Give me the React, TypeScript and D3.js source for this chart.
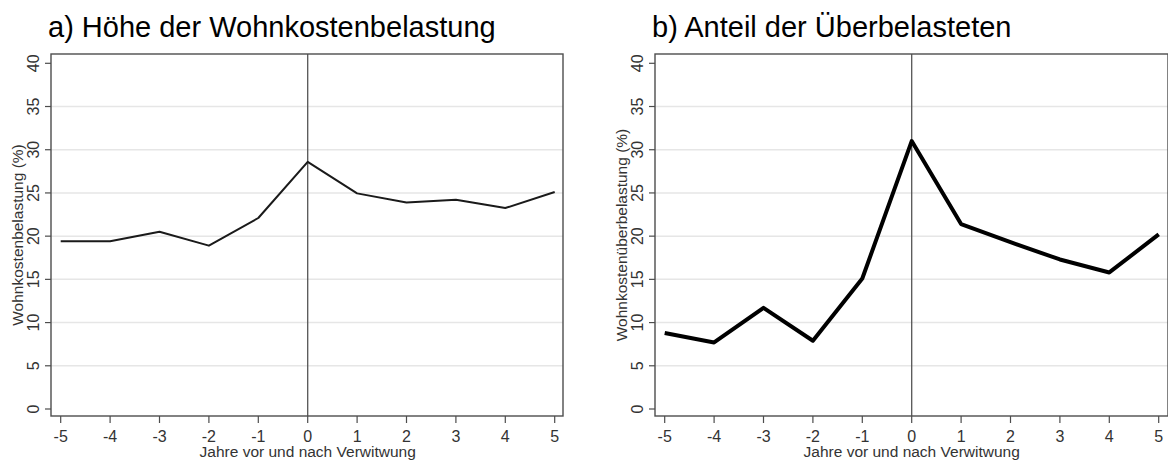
import React from "react";
import * as d3 from "d3";

const years = [-5, -4, -3, -2, -1, 0, 1, 2, 3, 4, 5];
const belastung = [19.4, 19.4, 20.5, 18.9, 22.1, 28.6, 24.95, 23.9, 24.2, 23.25, 25.1];
const ueberbelastet = [8.8, 7.7, 11.7, 7.9, 15.1, 31.0, 21.4, 19.3, 17.3, 15.8, 20.2];
const yTicks = [0, 5, 10, 15, 20, 25, 30, 35, 40];
const gridTicks = [5, 10, 15, 20, 25, 30, 35];
const titleA = "a) Höhe der Wohnkostenbelastung";
const titleB = "b) Anteil der Überbelasteten";
const yTitleA = "Wohnkostenbelastung (%)";
const yTitleB = "Wohnkostenüberbelastung (%)";
const xTitle = "Jahre vor und nach Verwitwung";

const FONT = "'Liberation Sans', Arial, Helvetica, sans-serif";
const BOX_TOP = 54;
const BOX_BOTTOM = 416;

type PanelProps = {
  left: number;
  right: number;
  title: string;
  yTitle: string;
  values: number[];
  strokeWidth: number;
  stroke: string;
};

function Panel({ left, right, title, yTitle, values, strokeWidth, stroke }: PanelProps) {
  const x = d3.scaleLinear().domain([-5, 5]).range([left + 9.7, left + 503.7]);
  const y = d3.scaleLinear().domain([0, 40]).range([409, 63.3]);
  const line = d3
    .line<number>()
    .x((_, i) => x(years[i]))
    .y((d) => y(d));
  const midY = (BOX_TOP + BOX_BOTTOM) / 2;
  const axisColor = "#4d4d4d";
  const textColor = "#333";

  return (
    <g fontFamily={FONT}>
      <text x={left - 3} y={37} fontSize={29} fill="#000">
        {title}
      </text>

      {gridTicks.map((t) => (
        <line key={"g" + t} x1={left} x2={right} y1={y(t)} y2={y(t)} stroke="#e6e6e6" strokeWidth={1.5} />
      ))}

      {/* event line at year 0 */}
      <line x1={x(0)} x2={x(0)} y1={BOX_TOP} y2={BOX_BOTTOM} stroke="#555" strokeWidth={1.3} />

      <path d={line(values) || ""} fill="none" stroke={stroke} strokeWidth={strokeWidth} strokeLinejoin="round" />

      <rect
        x={left}
        y={BOX_TOP}
        width={right - left}
        height={BOX_BOTTOM - BOX_TOP}
        fill="none"
        stroke={axisColor}
        strokeWidth={1.4}
      />

      {yTicks.map((t) => (
        <g key={"y" + t}>
          <line x1={left - 6} x2={left} y1={y(t)} y2={y(t)} stroke={axisColor} strokeWidth={1.2} />
          <text
            transform={`translate(${left - 12},${y(t)}) rotate(-90)`}
            textAnchor="middle"
            fontSize={16}
            fill={textColor}
          >
            {t}
          </text>
        </g>
      ))}

      <text
        transform={`translate(${left - 28},${midY}) rotate(-90)`}
        textAnchor="middle"
        fontSize={15.5}
        fill={textColor}
      >
        {yTitle}
      </text>

      {years.map((t) => (
        <g key={"x" + t}>
          <line x1={x(t)} x2={x(t)} y1={BOX_BOTTOM} y2={BOX_BOTTOM + 7} stroke={axisColor} strokeWidth={1.2} />
          <text x={x(t)} y={BOX_BOTTOM + 26} textAnchor="middle" fontSize={16} fill={textColor}>
            {t}
          </text>
        </g>
      ))}

      <text x={x(0)} y={BOX_BOTTOM + 41} textAnchor="middle" fontSize={15.5} fill={textColor}>
        {xTitle}
      </text>
    </g>
  );
}

export default function App() {
  return (
    <svg
      width={1168}
      height={461}
      style={{ position: "absolute", left: 0, top: 0, background: "#fff" }}
    >
      <rect width={1168} height={461} fill="#fff" />
      <Panel
        left={51}
        right={563}
        title={titleA}
        yTitle={yTitleA}
        values={belastung}
        strokeWidth={2}
        stroke="#1a1a1a"
      />
      <Panel
        left={655}
        right={1168}
        title={titleB}
        yTitle={yTitleB}
        values={ueberbelastet}
        strokeWidth={4}
        stroke="#000"
      />
    </svg>
  );
}
